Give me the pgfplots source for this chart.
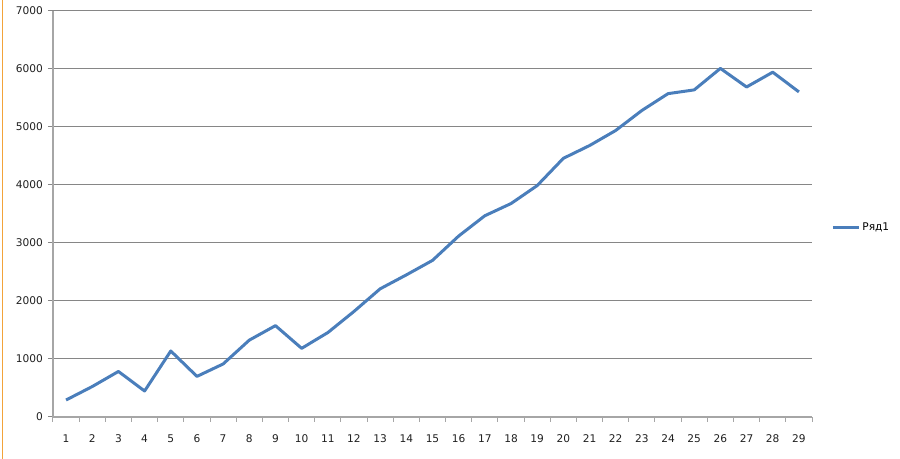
\documentclass[border=0pt]{standalone}
\usepackage{pgfplots}
\pgfplotsset{compat=1.18}
\usepackage{fontspec}
\setmainfont{DejaVu Sans}
\definecolor{serblue}{HTML}{4A7EBB}
\definecolor{gridgray}{HTML}{868686}
\definecolor{axgray}{HTML}{A6A6A6}
\definecolor{orng}{HTML}{F2A33A}
\begin{document}
\begin{tikzpicture}[x=1pt,y=1pt]
\path[use as bounding box] (0,0) rectangle (450,229.5);
\draw[orng, line width=0.6pt] (1.2,0) -- (1.2,229.5);
\begin{axis}[
  at={(26.5pt,21pt)}, anchor=south west,
  scale only axis, width=379.5pt, height=203pt,
  xmin=0.5, xmax=29.5, ymin=0, ymax=7000,
  axis x line*=bottom, axis y line*=left,
  axis line style={axgray, line width=0.6pt, -},
  xtick={1,...,29}, major x tick style={draw=none},
  minor xtick={0.5,1.5,...,29.5},
  minor x tick style={axgray, line width=0.5pt},
  minor tick length=2.5pt,
  ytick={0,1000,...,7000},
  major y tick style={gridgray, line width=0.5pt},
  major tick length=2.5pt,
  tick align=outside,
  ymajorgrids, grid style={gridgray, line width=0.5pt},
  /pgf/number format/assume math mode=true,
  scaled y ticks=false,
  yticklabel={\pgfmathprintnumber[fixed,1000 sep={}]{\tick}},
  ticklabel style={font=\fontsize{5.3}{6.3}\selectfont, text=black!88},
  xticklabel style={yshift=-3.0pt},
  yticklabel style={xshift=1pt},
  legend style={at={(1.025,0.466)}, anchor=west, draw=none, fill=none,
    font=\fontsize{5.3}{6.3}\selectfont, inner sep=0pt,
    nodes={inner sep=1pt}},
  legend image code/.code={\draw[#1] (0pt,0pt) -- (13pt,0pt);},
  clip=false,
]
\addplot[serblue, line width=1.5pt, line join=round] coordinates {
(1,293) (2,525) (3,785) (4,448) (5,1138) (6,700) (7,914) (8,1325) (9,1575) (10,1184)
(11,1455) (12,1820) (13,2210) (14,2450) (15,2700) (16,3120) (17,3470) (18,3680) (19,3990) (20,4460)
(21,4680) (22,4940) (23,5285) (24,5575) (25,5640) (26,6010) (27,5690) (28,5945) (29,5605)
};
\addlegendentry{Ряд1}
\end{axis}
\end{tikzpicture}
\end{document}
